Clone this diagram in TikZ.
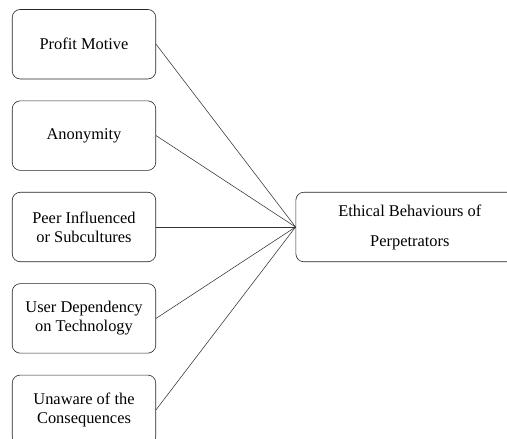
\documentclass[tikz,border=0pt]{standalone}
\usepackage{fontspec}
\setmainfont{Liberation Serif}
\usepackage{tikz}
\usetikzlibrary{positioning}

\tikzset{
  factor/.style={draw=black!85, line width=0.6pt, rounded corners=8pt,
    minimum width=143.5pt, minimum height=69.5pt, align=center,
    inner sep=2pt, font=\fontsize{16.4}{19}\selectfont},
  outcome/.style={factor, minimum width=228pt, font=\fontsize{16.4}{30}\selectfont},
  link/.style={draw=black!80, line width=0.55pt}
}

\begin{document}
\begin{tikzpicture}[x=1pt, y=1pt, node distance=21.3pt]
                \useasboundingbox (0,0) rectangle (507,-439);
                \node[factor] (profit) at (84,-44.2) {Profit Motive};
                \node[factor, below=of profit] (anon) {Anonymity};
                \node[factor, below=of anon] (peer) {Peer Influenced\\or Subcultures};
                \node[factor, below=of peer] (depend) {User Dependency\\on Technology};
                \node[factor, below=of depend] (unaware) {Unaware of the\\Consequences};
                \node[outcome, right=139.5pt of peer] (ethics) {Ethical Behaviours of\\Perpetrators};
                \foreach \src in {profit,anon,peer,depend,unaware}
                    \draw[link] (\src.east) -- (ethics.west);
            \end{tikzpicture}
\end{document}
